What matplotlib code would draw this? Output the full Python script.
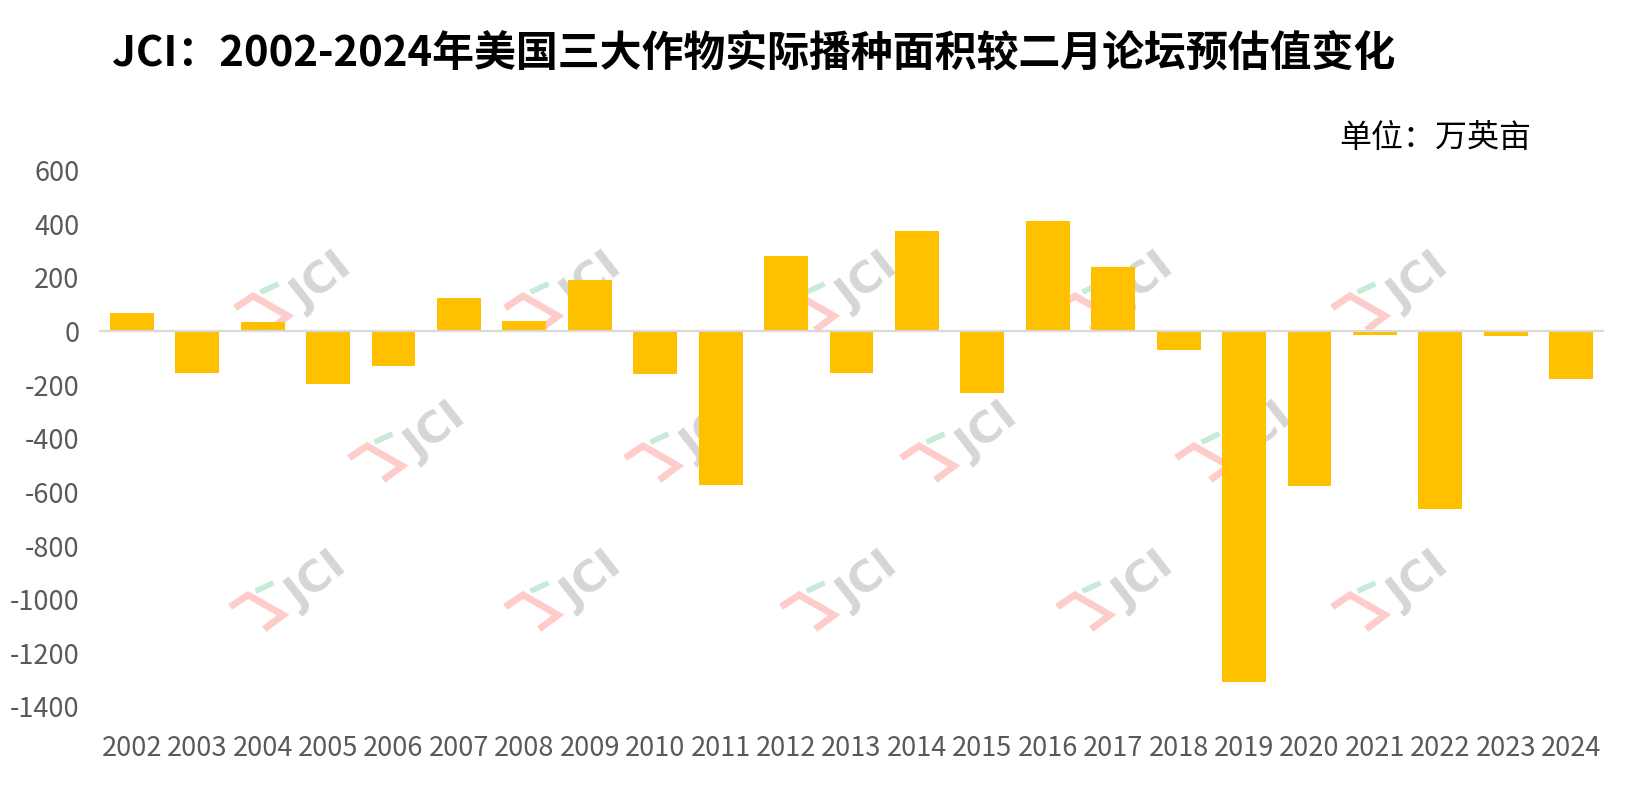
import matplotlib
matplotlib.use("Agg")
import matplotlib.pyplot as plt
from matplotlib.lines import Line2D

plt.rcParams['font.family'] = ['Noto Sans CJK SC', 'DejaVu Sans']

years = ["2002", "2003", "2004", "2005", "2006", "2007", "2008", "2009", "2010", "2011", "2012",
         "2013", "2014", "2015", "2016", "2017", "2018", "2019", "2020", "2021", "2022", "2023", "2024"]
changes = [67, -158, 30, -200, -132, 123, 34, 187, -162, -575, 279,
           -158, 371, -233, 410, 238, -72, -1310, -580, -16, -665, -19, -180]
y_ticks = [600, 400, 200, 0, -200, -400, -600, -800, -1000, -1200, -1400]

title = "JCI：2002-2024年美国三大作物实际播种面积较二月论坛预估值变化"
unit = "单位：万英亩"

W, H = 1631, 812
fig = plt.figure(figsize=(W / 100, H / 100), dpi=100)
fig.patch.set_facecolor("white")

ax = fig.add_axes([99 / W, 105 / H, (1604 - 99) / W, (707 - 170.6) / H])
ax.patch.set_alpha(0)
x = list(range(len(years)))
ax.bar(x, changes, width=0.67, color="#FFC000", zorder=2)
ax.axhline(0, color="#d9d9d9", lw=1.6, zorder=3)
ax.set_xlim(-0.5, len(years) - 0.5)
ax.set_ylim(-1400, 600)
ax.set_yticks(y_ticks)
ax.set_yticklabels([str(v) for v in y_ticks])
ax.set_xticks(x)
ax.set_xticklabels(years)
for s in ax.spines.values():
    s.set_visible(False)
ax.tick_params(axis='both', length=0, labelsize=19.5, labelcolor="#595959")
ax.tick_params(axis='y', pad=14)
ax.tick_params(axis='x', pad=20)
for lab in ax.get_xticklabels() + ax.get_yticklabels():
    lab.set_fontweight(300)

fig.text(112 / W, 1 - 54 / H, title, fontsize=30.2, fontweight='bold', color="black",
         ha='left', va='center')
fig.text(1531 / W, 1 - 138 / H, unit, fontsize=23, color="black", ha='right', va='center')

# watermarks
rows = [
    (276, [312, 582, 858, 1134, 1409]),
    (426, [426, 702, 978, 1253]),
    (575, [307, 582, 858, 1134, 1409]),
]
for cy, xs in rows:
    for cx in xs:
        fig.text((cx + 10) / W, 1 - (cy + 6) / H, "JCI", rotation=38, color="#d6d6d6", fontsize=31,
                 fontweight='bold', ha='center', va='center', zorder=-2, family='DejaVu Sans')
        pts = [(-74, 31), (-59, 21), (-24, 41), (-40, 53)]
        px = [(cx + dx) / W for dx, dy in pts]
        py = [1 - (cy + dy) / H for dx, dy in pts]
        fig.add_artist(Line2D(px, py, color="#ffcccc", lw=5, solid_joinstyle='miter',
                              transform=fig.transFigure, zorder=-2))
        gx = [(cx - 49) / W, (cx - 36) / W]
        gy = [1 - (cy + 16) / H, 1 - (cy + 10) / H]
        fig.add_artist(Line2D(gx, gy, color="#c8ead8", lw=4, transform=fig.transFigure, zorder=-2))

fig.savefig("out.png", dpi=100, facecolor="white")
